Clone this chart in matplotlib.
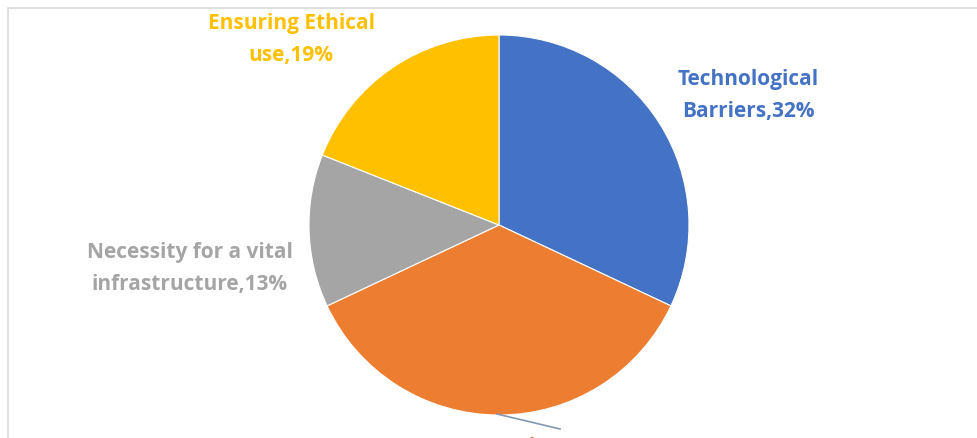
import matplotlib
matplotlib.use("Agg")
import matplotlib.pyplot as plt
import matplotlib.patches as mpatches

W, H = 977, 439

categories = ["Technological Barriers", "Data Privacy Concerns", "Necessity for a vital infrastructure", "Ensuring Ethical use"]
shares = [32, 36, 13, 19]
colors = ["#4472C4", "#ED7D31", "#A5A5A5", "#FFC000"]
label_lines = [
    ("Technological", "Barriers"),
    ("Data Privacy", "Concerns"),
    ("Necessity for a vital", "infrastructure"),
    ("Ensuring Ethical", "use"),
]

# label centre x and first-line baseline (pixels from top-left)
LABEL_POS = [(748, 85), (517, 453), (190, 258), (291, 29)]
LINE_GAP = 32

CENTER = (499, H - 226)
RADIUS = 190

fig = plt.figure(figsize=(W / 100, H / 100), dpi=100)
fig.patch.set_facecolor("white")
ax = fig.add_axes([0, 0, 1, 1])

wedges, _ = ax.pie(
    shares,
    colors=colors,
    startangle=90,
    counterclock=False,
    center=CENTER,
    radius=RADIUS,
    wedgeprops=dict(edgecolor="white", linewidth=0.8),
)
ax.set_xlim(0, W)
ax.set_ylim(0, H)
ax.set_aspect("equal")
ax.axis("off")

for (l1, l2), pct, col, (x, y) in zip(label_lines, shares, colors, LABEL_POS):
    for i, line in enumerate([l1, f"{l2},{pct}%"]):
        ax.text(
            x, H - (y + i * LINE_GAP),
            line,
            color=col,
            fontsize=15,
            fontweight="bold",
            fontfamily="Open Sans",
            ha="center",
            va="baseline",
        )

# leader line for the bottom slice
ax.plot([497, 560], [H - 415, H - 430], color="#8497B0", lw=1.2)

# light chart-area border
fig.add_artist(mpatches.Rectangle(
    (8 / W, -0.1), 1.2, (H - 9) / H + 0.1,
    transform=fig.transFigure, facecolor="none",
    edgecolor="#D9D9D9", linewidth=1.2,
))

fig.savefig("out.png", dpi=100, facecolor="white")
